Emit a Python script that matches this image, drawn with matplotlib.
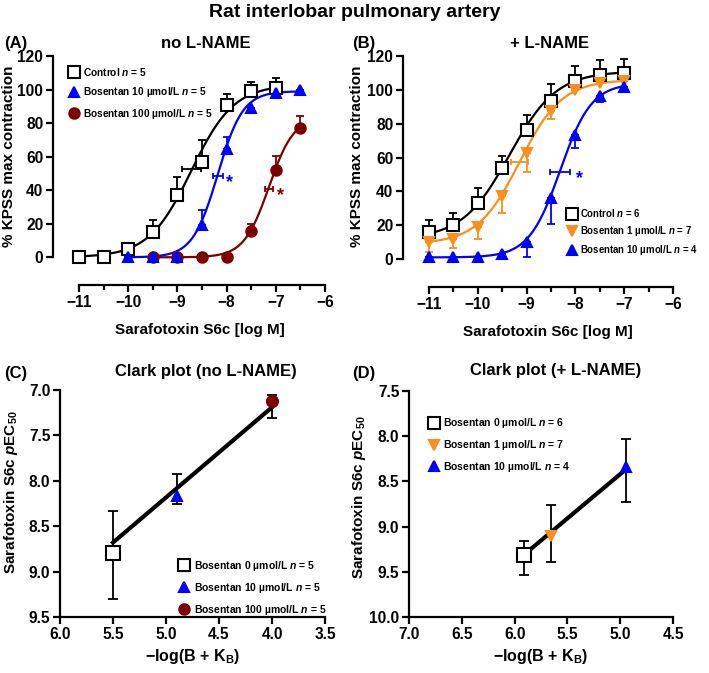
import numpy as np
import matplotlib
matplotlib.use("Agg")
import matplotlib.pyplot as plt
from matplotlib.lines import Line2D
from matplotlib.ticker import FormatStrFormatter

plt.rcParams['font.family'] = ['Liberation Sans', 'DejaVu Sans']
plt.rcParams['font.weight'] = 'bold'
plt.rcParams['mathtext.fontset'] = 'custom'
plt.rcParams['mathtext.rm'] = 'Liberation Sans:bold'
plt.rcParams['mathtext.it'] = 'Liberation Sans:italic:bold'
plt.rcParams['mathtext.bf'] = 'Liberation Sans:bold'
plt.rcParams['axes.linewidth'] = 1.6

BLACK = 'black'
BLUE = '#0000ff'
RED = '#7d0000'
ORANGE = '#f7901e'

# ---- Panel A: no L-NAME (log M, % KPSS) ----
a_ctrl_x = [-11, -10.5, -10, -9.5, -9, -8.5, -8, -7.5, -7]
a_ctrl_y = [0, 0, 5, 15, 37, 57, 91, 99, 101]
a_ctrl_e = [0, 0, 0, 7.5, 11, 13, 6.5, 5.5, 6]
a_b10_x = [-10, -9.5, -9, -8.5, -8, -7.5, -7, -6.5]
a_b10_y = [0, 0, 0, 19, 64.5, 89, 98, 100]
a_b10_e = [0, 0, 0, 9, 7.5, 0, 0, 0]
a_b100_x = [-9.5, -9, -8.5, -8, -7.5, -7, -6.5]
a_b100_y = [0, 0, 0, 0, 15.5, 52, 77]
a_b100_e = [0, 0, 0, 0, 4.5, 8.5, 7.5]

# fitted curve parameters: bottom, top, logEC50, hill, x range
a_ctrl_fit = (0, 103, -8.72, 1.0, -11, -7)
a_b10_fit = (0, 99, -8.18, 1.7, -10, -6.5)
a_b100_fit = (0, 84, -7.14, 1.7, -9.5, -6.5)

# EC50 +/- error bars (x centre, x error, y level)
a_ctrl_ec = (-8.72, 0.19, 52.5)
a_b10_ec = (-8.18, 0.10, 48.5)
a_b100_ec = (-7.14, 0.08, 41.0)

# ---- Panel B: + L-NAME ----
b_ctrl_x = [-11, -10.5, -10, -9.5, -9, -8.5, -8, -7.5, -7]
b_ctrl_y = [16, 20, 33, 54, 76.5, 93.5, 105, 109, 110]
b_ctrl_e = [7, 7.5, 9, 7, 8.5, 10, 9, 8.5, 8]
b_b1_x = [-11, -10.5, -10, -9.5, -9, -8.5, -8, -7.5, -7]
b_b1_y = [10, 12, 19, 37.5, 63, 87.5, 100, 104, 105.5]
b_b1_e = [6, 5.5, 7, 10.5, 11.5, 4.5, 0, 0, 0]
b_b10_x = [-11, -10.5, -10, -9.5, -9, -8.5, -8, -7.5, -7]
b_b10_y = [1, 1, 1, 3, 10, 36, 73.5, 96.5, 101.5]
b_b10_e = [0, 0, 0, 0, 9, 15, 8, 3.5, 0]

b_ctrl_fit = (12, 111, -9.35, 0.9, -11, -7)
b_b1_fit = (9, 106, -9.14, 1.0, -11, -7)
b_b10_fit = (1, 104, -8.31, 1.35, -11, -7)

b_b1_ec = (-9.14, 0.17, 57.5)
b_b10_ec = (-8.31, 0.20, 51.7)

# ---- Panel C: Clark plot, no L-NAME ----
c_x = [5.5, 4.9, 4.0]
c_y = [8.8, 8.17, 7.12]
c_err_lo = [0.47, 0.25, 0.07]   # towards smaller pEC50 (up on the inverted axis)
c_err_hi = [0.50, 0.08, 0.19]
c_fit_x = [5.5, 4.0]
c_fit_y = [8.68, 7.19]

# ---- Panel D: Clark plot, + L-NAME ----
d_x = [5.91, 5.66, 4.95]
d_y = [9.31, 9.10, 8.34]
d_err_lo = [0.15, 0.34, 0.31]
d_err_hi = [0.22, 0.29, 0.39]
d_fit_x = [5.91, 4.95]
d_fit_y = [9.31, 8.37]


def hill_curve(fit):
    bottom, top, ec50, hill, x0, x1 = fit
    xs = np.linspace(x0, x1, 300)
    return xs, bottom + (top - bottom) / (1 + 10 ** ((ec50 - xs) * hill))


def style_axes(ax):
    for s in ('top', 'right'):
        ax.spines[s].set_visible(False)
    ax.tick_params(which='major', length=5, width=1.6, labelsize=11.2, pad=2)
    ax.tick_params(which='minor', length=3.5, width=1.6)
    for lab in ax.get_xticklabels() + ax.get_yticklabels():
        lab.set_fontweight('bold')


def plot_dose(ax, x, y, e, fit, color, marker, ms, mfc, lower=False):
    xs, ys = hill_curve(fit)
    ax.plot(xs, ys, color=color, lw=1.6, zorder=2, clip_on=False)
    e = np.array(e)
    yerr = [e, np.zeros_like(e)] if lower else [np.zeros_like(e), e]
    ax.errorbar(x, y, yerr=yerr, fmt='none', ecolor=color, elinewidth=1.3,
                capsize=3, capthick=1.3, zorder=3, clip_on=False)
    ax.plot(x, y, linestyle='none', marker=marker, ms=ms, mfc=mfc,
            mec=color, mew=1.5, zorder=4, clip_on=False)


def plot_ec(ax, ec, color):
    c, err, lvl = ec
    ax.errorbar([c], [lvl], xerr=[err], fmt='none', ecolor=color,
                elinewidth=1.3, capsize=2.5, capthick=1.3, zorder=3)


fig = plt.figure(figsize=(7.09, 6.73), dpi=100)

axA = fig.add_axes([0.0748, 0.5765, 0.3836, 0.3403])
axB = fig.add_axes([0.5684, 0.5735, 0.3808, 0.3432])
axC = fig.add_axes([0.0846, 0.0832, 0.3738, 0.3373])
axD = fig.add_axes([0.5769, 0.0832, 0.3724, 0.3358])

# Panel A
plot_dose(axA, a_ctrl_x, a_ctrl_y, a_ctrl_e, a_ctrl_fit, BLACK, 's', 8, 'white')
plot_dose(axA, a_b100_x, a_b100_y, a_b100_e, a_b100_fit, RED, 'o', 7.5, RED)
plot_dose(axA, a_b10_x, a_b10_y, a_b10_e, a_b10_fit, BLUE, '^', 7, BLUE)
plot_ec(axA, a_ctrl_ec, BLACK)
plot_ec(axA, a_b10_ec, BLUE)
plot_ec(axA, a_b100_ec, RED)
axA.text(a_b10_ec[0] + a_b10_ec[1] + 0.06, a_b10_ec[2] - 4, '*', color=BLUE,
         fontsize=13, fontweight='bold', ha='left', va='center')
axA.text(a_b100_ec[0] + a_b100_ec[1] + 0.08, a_b100_ec[2] - 4, '*', color=RED,
         fontsize=13, fontweight='bold', ha='left', va='center')

# Panel B
plot_dose(axB, b_ctrl_x, b_ctrl_y, b_ctrl_e, b_ctrl_fit, BLACK, 's', 8, 'white')
plot_dose(axB, b_b1_x, b_b1_y, b_b1_e, b_b1_fit, ORANGE, 'v', 7, ORANGE, lower=True)
plot_dose(axB, b_b10_x, b_b10_y, b_b10_e, b_b10_fit, BLUE, '^', 7, BLUE, lower=True)
plot_ec(axB, b_b1_ec, ORANGE)
plot_ec(axB, b_b10_ec, BLUE)
axB.text(b_b10_ec[0] + b_b10_ec[1] + 0.12, b_b10_ec[2] - 4, '*', color=BLUE,
         fontsize=13, fontweight='bold', ha='left', va='center')

for ax in (axA, axB):
    ax.set_xlim(-11.53, -6)
    ax.set_ylim(-16.5, 120)
    ax.spines['left'].set_bounds(0, 120)
    ax.spines['bottom'].set_bounds(-11, -6)
    ax.set_yticks(np.arange(0, 121, 20))
    ax.set_xticks(np.arange(-11, -5, 1))
    ax.set_xticks(np.arange(-10.5, -6, 1), minor=True)
    style_axes(ax)
    ax.set_xlabel('Sarafotoxin S6c [log M]', fontsize=11, fontweight='bold')
    ax.set_ylabel('% KPSS max contraction', fontsize=11, fontweight='bold')

axA.yaxis.set_label_coords(-0.138, 0.563)
axB.yaxis.set_label_coords(-0.146, 0.567)
axA.xaxis.set_label_coords(0.54, -0.165)
axB.xaxis.set_label_coords(0.537, -0.165)

# Panel C
axC.plot(c_fit_x, c_fit_y, color=BLACK, lw=3, zorder=2)
axC.errorbar(c_x, c_y, yerr=[c_err_lo, c_err_hi], fmt='none', ecolor=BLACK,
             elinewidth=1.3, capsize=3.5, capthick=1.3, zorder=3)
c_markers = [('s', 'white', BLACK, 9.5), ('^', BLUE, BLUE, 7), ('o', RED, RED, 8)]
for xi, yi, (m, fc, ec, ms) in zip(c_x, c_y, c_markers):
    axC.plot([xi], [yi], marker=m, mfc=fc, mec=ec, ms=ms, mew=1.5, zorder=4,
             linestyle='none', clip_on=False)
axC.set_xlim(6.0, 3.5)
axC.set_ylim(9.5, 7.0)
axC.set_xticks(np.arange(6.0, 3.4, -0.5))
axC.set_yticks(np.arange(7.0, 9.6, 0.5))

# Panel D
axD.plot(d_fit_x, d_fit_y, color=BLACK, lw=3, zorder=2)
axD.errorbar(d_x, d_y, yerr=[d_err_lo, d_err_hi], fmt='none', ecolor=BLACK,
             elinewidth=1.3, capsize=3.5, capthick=1.3, zorder=3)
d_markers = [('s', 'white', BLACK, 9.5), ('v', ORANGE, ORANGE, 7.5), ('^', BLUE, BLUE, 7.5)]
for xi, yi, (m, fc, ec, ms) in zip(d_x, d_y, d_markers):
    axD.plot([xi], [yi], marker=m, mfc=fc, mec=ec, ms=ms, mew=1.5, zorder=4,
             linestyle='none', clip_on=False)
axD.set_xlim(7.0, 4.5)
axD.set_ylim(10.0, 7.5)
axD.set_xticks(np.arange(7.0, 4.4, -0.5))
axD.set_yticks(np.arange(7.5, 10.1, 0.5))

for ax in (axC, axD):
    ax.xaxis.set_major_formatter(FormatStrFormatter('%.1f'))
    ax.yaxis.set_major_formatter(FormatStrFormatter('%.1f'))
    style_axes(ax)
    ax.set_xlabel('\u2212log(B + K$_{\\mathrm{B}}$)', fontsize=11.5, fontweight='bold', labelpad=4)
    ax.set_ylabel('Sarafotoxin S6c $\\mathit{p}$EC$_{50}$', fontsize=11,
                  fontweight='bold')

axC.yaxis.set_label_coords(-0.151, 0.55)
axD.yaxis.set_label_coords(-0.155, 0.53)


def make_legend(ax, entries, anchor, loc, size=7.5, spacing=0.75):
    handles = [Line2D([], [], linestyle='none', marker=m, mfc=fc, mec=ec, ms=ms, mew=1.5)
               for (m, fc, ec, ms, _) in entries]
    labels = [lab for (*_, lab) in entries]
    leg = ax.legend(handles, labels, loc=loc, bbox_to_anchor=anchor, frameon=False,
                    handlelength=0.9, handletextpad=0.45, labelspacing=spacing,
                    borderaxespad=0, prop={'size': size, 'weight': 'bold'})
    return leg


make_legend(axA, [('s', 'white', BLACK, 8, 'Control $\\mathit{n}$ = 5'),
                  ('^', BLUE, BLUE, 7, 'Bosentan 10 \u00b5mol/L $\\mathit{n}$ = 5'),
                  ('o', RED, RED, 7.5, 'Bosentan 100 \u00b5mol/L $\\mathit{n}$ = 5')],
            (0.045, 0.975), 'upper left', size=7.3)
make_legend(axB, [('s', 'white', BLACK, 8, 'Control $\\mathit{n}$ = 6'),
                  ('v', ORANGE, ORANGE, 7, 'Bosentan 1 \u00b5mol/L $\\mathit{n}$ = 7'),
                  ('^', BLUE, BLUE, 7, 'Bosentan 10 \u00b5mol/L $\\mathit{n}$ = 4')],
            (0.595, 0.238), 'center left', size=6.9, spacing=0.5)
make_legend(axC, [('s', 'white', BLACK, 8.5, 'Bosentan 0 \u00b5mol/L $\\mathit{n}$ = 5'),
                  ('^', BLUE, BLUE, 7, 'Bosentan 10 \u00b5mol/L $\\mathit{n}$ = 5'),
                  ('o', RED, RED, 7.5, 'Bosentan 100 \u00b5mol/L $\\mathit{n}$ = 5')],
            (0.436, 0.128), 'center left')
make_legend(axD, [('s', 'white', BLACK, 8.5, 'Bosentan 0 \u00b5mol/L $\\mathit{n}$ = 6'),
                  ('v', ORANGE, ORANGE, 7, 'Bosentan 1 \u00b5mol/L $\\mathit{n}$ = 7'),
                  ('^', BLUE, BLUE, 7, 'Bosentan 10 \u00b5mol/L $\\mathit{n}$ = 4')],
            (0.06, 0.76), 'center left')

# titles and panel letters
fig.text(0.5, 0.982, 'Rat interlobar pulmonary artery', ha='center', va='center',
         fontsize=14, fontweight='bold')
fig.text(0.006, 0.935, '(A)', ha='left', va='center', fontsize=12, fontweight='bold')
fig.text(0.497, 0.935, '(B)', ha='left', va='center', fontsize=12, fontweight='bold')
fig.text(0.006, 0.445, '(C)', ha='left', va='center', fontsize=12, fontweight='bold')
fig.text(0.497, 0.445, '(D)', ha='left', va='center', fontsize=12, fontweight='bold')
fig.text(0.29, 0.935, 'no L-NAME', ha='center', va='center', fontsize=12, fontweight='bold')
fig.text(0.775, 0.935, '+ L-NAME', ha='center', va='center', fontsize=12, fontweight='bold')
fig.text(0.29, 0.448, 'Clark plot (no L-NAME)', ha='center', va='center',
         fontsize=12, fontweight='bold')
fig.text(0.783, 0.45, 'Clark plot (+ L-NAME)', ha='center', va='center',
         fontsize=12, fontweight='bold')

fig.savefig('out.png', dpi=100)
